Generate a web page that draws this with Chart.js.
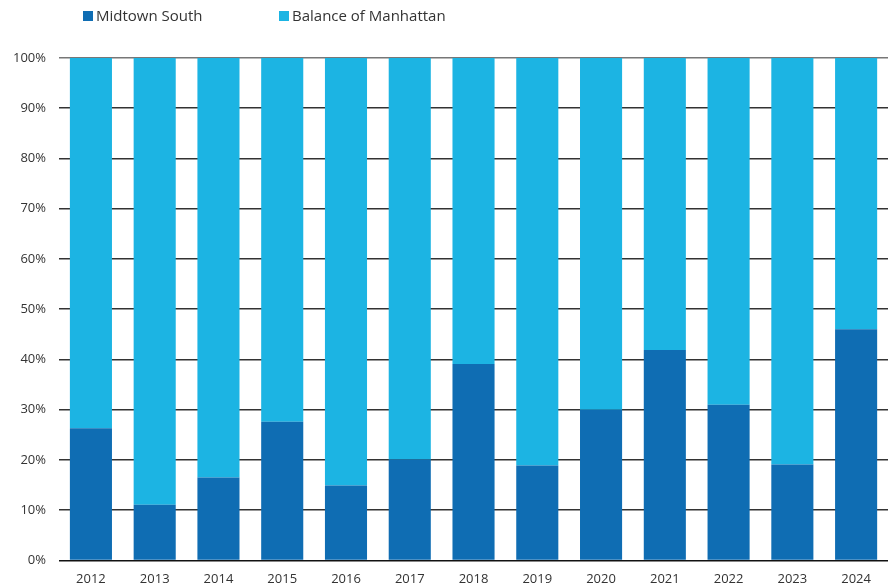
<!DOCTYPE html>
<html>
<head>
<meta charset="utf-8">
<script src="https://cdn.jsdelivr.net/npm/chart.js@4"></script>
<style>
  html, body { margin: 0; padding: 0; background: #fff; overflow: hidden; }
  #wrap { position: relative; width: 892px; height: 588px; overflow: hidden; }
  #box { position: absolute; left: 0; top: 0; width: 892px; height: 598px; }
  #legend { position: absolute; top: 5px; left: 83px; font-family: "Open Sans", sans-serif; font-size: 15px; color: #333; z-index: 1; }
  #legend span.item { position: absolute; white-space: nowrap; top: 0; }
  #legend i { display: inline-block; width: 10px; height: 10px; margin-right: 3px; }
</style>
</head>
<body>
<div id="wrap">
  <div id="legend"></div>
  <div id="box"><canvas id="chart"></canvas></div>
</div>
<script>
const years = ["2012","2013","2014","2015","2016","2017","2018","2019","2020","2021","2022","2023","2024"];
const midtownSouth = [26.3, 11.1, 16.5, 27.6, 14.9, 20.1, 39.1, 18.9, 30.0, 41.9, 31.0, 19.1, 46.0];
const balanceOfManhattan = midtownSouth.map(v => +(100 - v).toFixed(1));
const seriesNames = ["Midtown South", "Balance of Manhattan"];
const seriesColors = ["#0f6db3", "#1cb4e3"];

// Legende als HTML (links ausgerichtet wie im Original)
const legend = document.getElementById("legend");
const legendX = [0, 196];
seriesNames.forEach((name, i) => {
  const span = document.createElement("span");
  span.className = "item";
  span.style.left = legendX[i] + "px";
  const box = document.createElement("i");
  box.style.background = seriesColors[i];
  span.appendChild(box);
  span.append(name);
  legend.appendChild(span);
});

const font = { family: "'Open Sans', sans-serif", size: 13 };

new Chart(document.getElementById("chart").getContext("2d"), {
  type: "bar",
  data: {
    labels: years,
    datasets: [
      { label: seriesNames[0], data: midtownSouth, backgroundColor: seriesColors[0] },
      { label: seriesNames[1], data: balanceOfManhattan, backgroundColor: seriesColors[1] }
    ]
  },
  options: {
    responsive: true,
    maintainAspectRatio: false,
    animation: false,
    layout: { padding: { top: 58, right: 4, left: 0, bottom: 0 } },
    datasets: { bar: { barPercentage: 0.66, categoryPercentage: 1 } },
    plugins: {
      legend: { display: false },
      tooltip: { enabled: false }
    },
    scales: {
      x: {
        stacked: true,
        grid: { display: false, drawTicks: false },
        border: { display: false },
        ticks: { color: "#333", font: font, padding: 11, maxRotation: 0 }
      },
      y: {
        stacked: true,
        min: 0,
        max: 100,
        grid: {
          color: ctx => ctx.tick.value === 0 ? "#111" : (ctx.tick.value === 100 ? "#777" : "#333"),
          lineWidth: 1.5,
          drawTicks: false
        },
        border: { display: false },
        ticks: {
          stepSize: 10,
          color: "#333",
          font: font,
          padding: 13,
          callback: v => v + "%"
        }
      }
    }
  }
});
</script>
</body>
</html>
